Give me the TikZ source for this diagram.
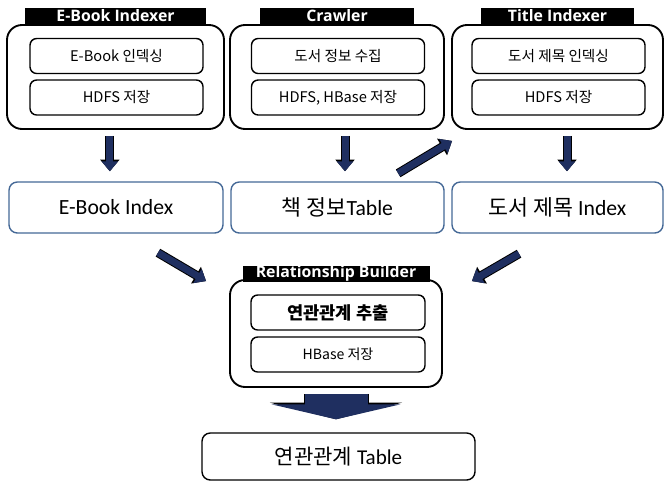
\documentclass[tikz,border=0pt]{standalone}
\usepackage{fontspec}
\setmainfont{Carlito}
\newfontfamily\kr{Noto Sans CJK KR}
\newfontfamily\tabfont{Open Sans}
\usepackage{tikz}
\usetikzlibrary{arrows.meta,calc}
\definecolor{arrowblue}{RGB}{31,47,96}
\definecolor{idxblue}{RGB}{68,104,150}

\begin{document}
\begin{tikzpicture}[x=0.3mm,y=-0.3mm,
  outerbox/.style={draw,line width=1.6pt,fill=white,rounded corners=4.5mm,minimum height=31.2mm,inner sep=0pt},
  tabbox/.style={fill=black,text=white,font=\tabfont\bfseries\fontsize{13.5}{15}\selectfont,
                 minimum height=4.8mm,inner sep=0pt,anchor=south},
  jobbox/.style={draw,line width=1.2pt,rounded corners=2mm,minimum width=51.9mm,minimum height=10.5mm,
                 inner sep=0pt,font=\kr\fontsize{12.5}{14}\selectfont},
  idxbox/.style={draw=idxblue,line width=1.2pt,rounded corners=2.5mm,minimum height=15.3mm,
                 inner sep=0pt,font=\fontsize{18.5}{22}\selectfont},
  blockarrow/.style={draw=arrowblue,line width=2.1mm,-{Triangle[length=3mm,width=4.8mm]},
                 preaction={draw=black,line width=2.7mm,-{Triangle[length=3.5mm,width=5.6mm]}}}]
\useasboundingbox (0,0) rectangle (664,481);

% e-book indexer
\node[outerbox,minimum width=65.1mm] (ebook) at (115.5,77) {};
\node[tabbox,minimum width=54.3mm] (ebtab) at (ebook.north) {E-Book Indexer};
\node[jobbox] (ebjob1) at (116.5,56) {E-Book 인덱싱};
\node[jobbox] (ebjob2) at (116.5,97.5) {HDFS 저장};

% crawler
\node[outerbox,minimum width=64.2mm] (crawl) at (337,77) {};
\node[tabbox,minimum width=46.2mm] (crtab) at (crawl.north) {Crawler};
\node[jobbox] (crjob1) at (338,56) {도서 정보 수집};
\node[jobbox] (crjob2) at (338,97.5) {HDFS, HBase 저장};

% title indexer
\node[outerbox,minimum width=63.3mm] (title) at (557.5,77) {};
\node[tabbox,minimum width=45.9mm] (titab) at (title.north) {Title Indexer};
\node[jobbox] (tijob1) at (558.5,56) {도서 제목 인덱싱};
\node[jobbox] (tijob2) at (558.5,97.5) {HDFS 저장};

% stored results
\node[idxbox,minimum width=64.2mm] (ebidx) at (116,207.5) {E-Book Index};
\node[idxbox,minimum width=63.9mm] (bookinfo) at (337.5,207.5) {{\kr 책 정보}Table};
\node[idxbox,minimum width=63.3mm] (titleidx) at (557.5,207.5) {{\kr 도서 제목} Index};

% relationship builder
\node[outerbox,minimum width=63.6mm,minimum height=32.1mm] (rel) at (336,333.5) {};
\node[tabbox,minimum width=56.1mm] (reltab) at ([yshift=-0.9mm]rel.north) {Relationship Builder};
\node[jobbox,minimum width=52.2mm,font=\kr\bfseries\fontsize{15}{17}\selectfont] (reljob1) at (338,312.5) {연관관계 추출};
\node[jobbox,minimum width=52.2mm,font=\kr\fontsize{12}{14}\selectfont] (reljob2) at (338,354.5) {HBase 저장};

\node[draw,line width=1.2pt,rounded corners=2.5mm,minimum width=81.9mm,minimum height=14.1mm,
      inner sep=0pt,font=\fontsize{18}{21}\selectfont] (reltable) at (338.5,456.5) {{\kr 연관관계} Table};

% arrows
\draw[blockarrow,shorten <=1.8mm,shorten >=3mm] ([xshift=-1.7mm]ebook.south) -- ([xshift=-1.7mm]ebook.south |- ebidx.north);
\draw[blockarrow,shorten <=1.8mm,shorten >=3mm] ([xshift=2.4mm]crawl.south) -- ([xshift=2.4mm]crawl.south |- bookinfo.north);
\draw[blockarrow,shorten <=1.8mm,shorten >=3mm] ([xshift=2.85mm]title.south) -- ([xshift=2.85mm]title.south |- titleidx.north);
\draw[blockarrow] ([xshift=18.2mm,yshift=2.4mm]bookinfo.north) -- ([xshift=0.3mm,yshift=-3.3mm]title.south west);
\draw[blockarrow] ([xshift=12.6mm,yshift=-5.7mm]ebidx.south) -- ([xshift=-6.9mm,yshift=-0.6mm]rel.north west);
\draw[blockarrow] ([xshift=-11.55mm,yshift=-6mm]titleidx.south) -- ([xshift=8.7mm,yshift=-0.6mm]rel.north east);

% wide arrow down to the result table
\draw[draw=arrowblue,line width=18.9mm,-{Triangle[length=4.5mm,width=38.7mm]},shorten <=1.8mm,shorten >=3.9mm,
      preaction={draw=black,line width=19.5mm,-{Triangle[length=5mm,width=39.6mm]}}]
  (rel.south) -- (rel.south |- reltable.north);
\end{tikzpicture}
\end{document}
